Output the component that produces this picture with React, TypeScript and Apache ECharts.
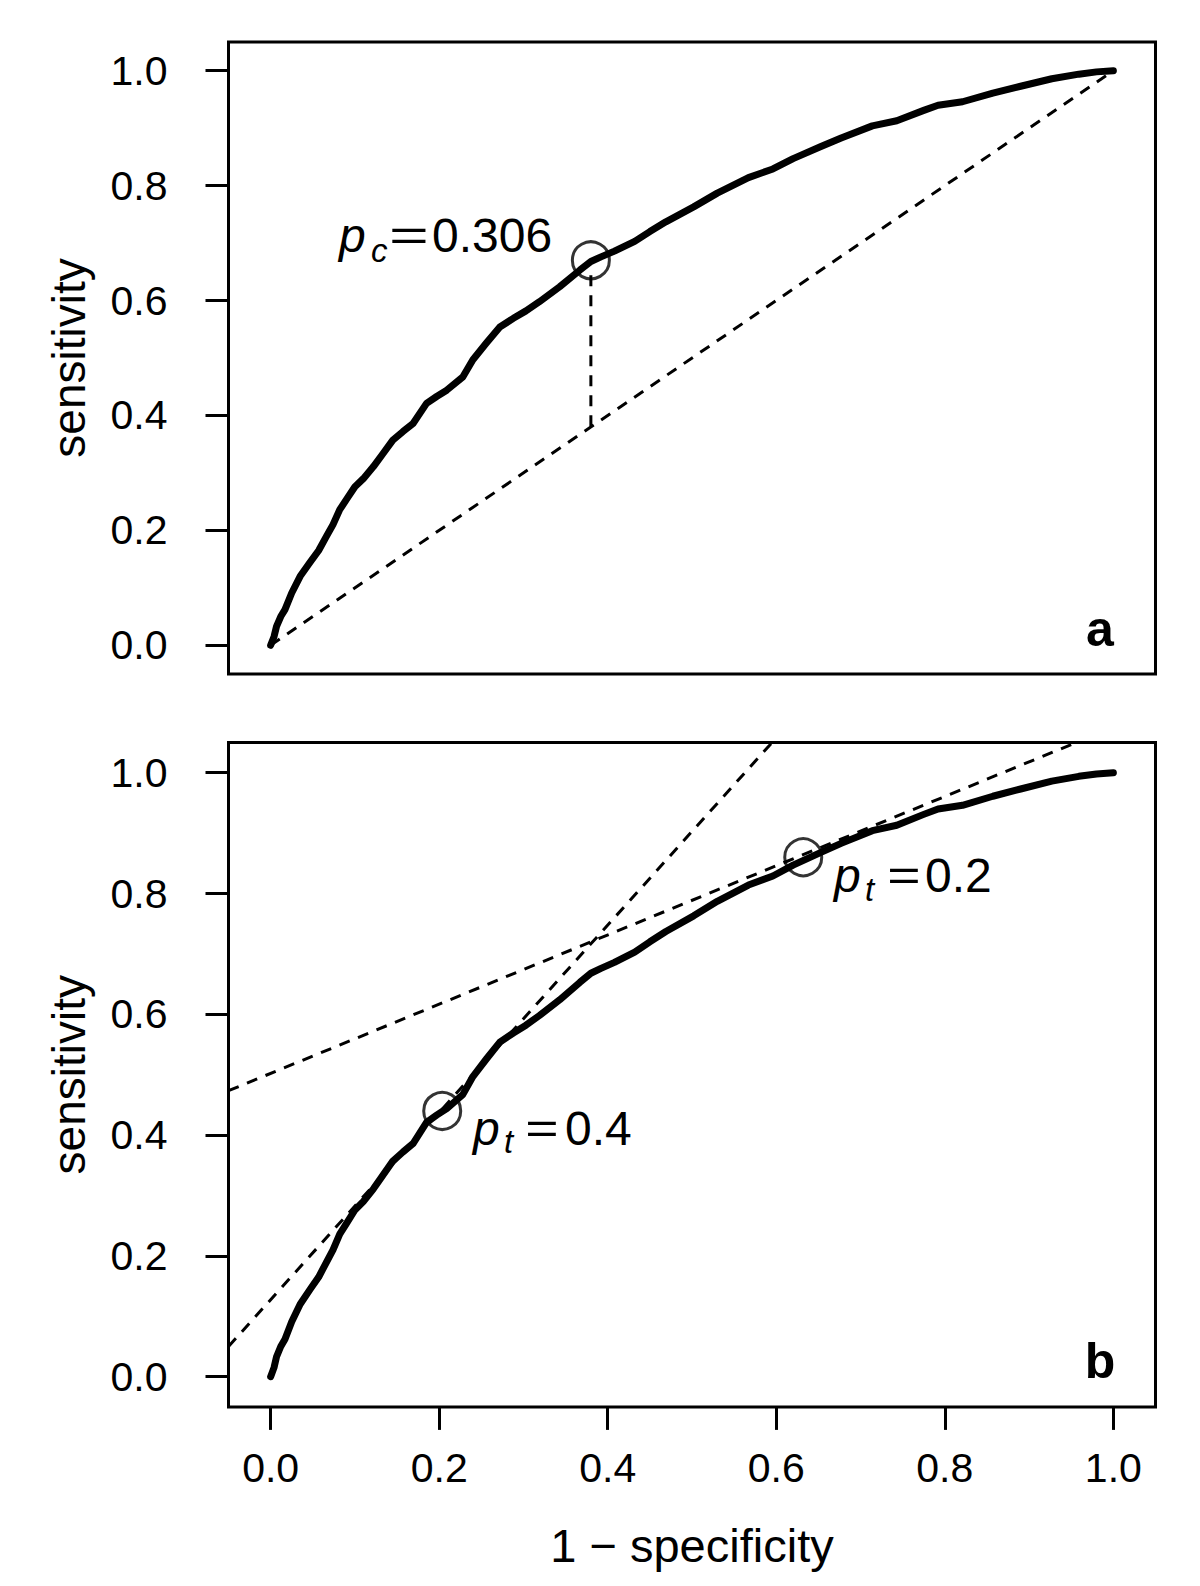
import React, { useEffect, useRef } from "react";
import * as echarts from "echarts";

// ROC curve: 1 - specificity (fpr) and sensitivity (tpr)
const fpr = [0, 0.004, 0.007, 0.012, 0.017, 0.025, 0.035, 0.047, 0.057, 0.066, 0.074, 0.082, 0.091, 0.1, 0.11, 0.122, 0.133, 0.145, 0.157, 0.169, 0.185, 0.197, 0.209, 0.228, 0.24, 0.256, 0.272, 0.288, 0.303, 0.319, 0.343, 0.367, 0.38, 0.392, 0.408, 0.432, 0.45, 0.469, 0.502, 0.53, 0.567, 0.596, 0.62, 0.653, 0.677, 0.714, 0.743, 0.775, 0.792, 0.821, 0.857, 0.89, 0.927, 0.959, 0.98, 1];
const tpr = [0, 0.015, 0.033, 0.05, 0.062, 0.091, 0.12, 0.145, 0.165, 0.189, 0.21, 0.236, 0.256, 0.276, 0.29, 0.311, 0.333, 0.357, 0.372, 0.386, 0.421, 0.433, 0.444, 0.467, 0.497, 0.526, 0.554, 0.569, 0.582, 0.598, 0.624, 0.653, 0.668, 0.676, 0.686, 0.703, 0.72, 0.737, 0.763, 0.787, 0.814, 0.829, 0.847, 0.868, 0.883, 0.904, 0.913, 0.931, 0.94, 0.946, 0.961, 0.973, 0.986, 0.994, 0.998, 1];

const tickValues = [0, 0.2, 0.4, 0.6, 0.8, 1.0];
const tickLabels = ["0.0", "0.2", "0.4", "0.6", "0.8", "1.0"];

// panel a
const diagonal = [[0, 0], [1, 1]];
const cutoffSegment = [[0.38, 0.381], [0.38, 0.645]];
const pcPoint = [[0.38, 0.67]];
// panel b
const tangentPt04 = [[-0.05, 0.05], [0.595, 1.05]];
const tangentPt02 = [[-0.05, 0.4735], [0.956, 1.05]];
const ptPoints = [[0.2036, 0.44], [0.632, 0.86]];

const FONT = "'Liberation Sans', Arial, Helvetica, sans-serif";

export default function App() {
  const ref = useRef<HTMLDivElement>(null);

  useEffect(() => {
    if (!ref.current) return;
    const chart = echarts.init(ref.current, undefined, { renderer: "svg" });
    const curve = fpr.map((x, i) => [x, tpr[i]]);
    const fmt = (v: number) => {
      const idx = tickValues.findIndex((t) => Math.abs(t - v) < 1e-9);
      return idx >= 0 ? tickLabels[idx] : "";
    };
    const labelStyle = { color: "#000", fontSize: 41, fontFamily: FONT };
    const tickStyle = { show: true, inside: false, length: 23, lineStyle: { color: "#000", width: 3 }, customValues: tickValues };
    const dashed = { color: "#000", width: 3, type: [11, 9] as any };
    const gridBase = { show: true, borderColor: "#000", borderWidth: 3, backgroundColor: "transparent", containLabel: false };

    const yAxisBase = (gi: number) => ({
      gridIndex: gi,
      type: "value",
      min: -0.05,
      max: 1.05,
      axisLine: { show: false, onZero: false },
      axisTick: tickStyle,
      axisLabel: { ...labelStyle, customValues: tickValues, formatter: fmt, margin: 61 },
      splitLine: { show: false },
      name: "sensitivity",
      nameLocation: "middle",
      nameRotate: 90,
      nameGap: 137,
      nameTextStyle: { color: "#000", fontSize: 46, fontFamily: FONT },
    });

    const lineS = (xi: number, data: number[][], style: any, z = 2) => ({
      type: "line",
      xAxisIndex: xi,
      yAxisIndex: xi,
      data,
      showSymbol: false,
      symbol: "none",
      lineStyle: style,
      silent: true,
      z,
    });
    const curveStyle = { color: "#000", width: 7, cap: "round", join: "round" };
    const circleS = (xi: number, data: number[][]) => ({
      type: "scatter",
      xAxisIndex: xi,
      yAxisIndex: xi,
      data,
      symbol: "circle",
      symbolSize: 37,
      itemStyle: { color: "rgba(0,0,0,0)", borderColor: "#000", borderWidth: 3 },
      z: 5,
    });

    const txt = (text: string, x: number, y: number, size: number, extra: any = {}, el: any = {}) => ({
      type: "text",
      x,
      y,
      z: 10,
      ...el,
      style: {
        text,
        fill: "#000",
        fontSize: size,
        fontFamily: FONT,
        textAlign: "left",
        textVerticalAlign: "middle",
        ...extra,
      },
    });

    chart.setOption({
      animation: false,
      backgroundColor: "#fff",
      grid: [
        { ...gridBase, left: 228.5, top: 42, width: 927, height: 632 },
        { ...gridBase, left: 228.5, top: 742.5, width: 927, height: 664.4 },
      ],
      xAxis: [
        {
          gridIndex: 0,
          type: "value",
          min: -0.05,
          max: 1.05,
          axisLine: { show: false, onZero: false },
          axisTick: { show: false },
          axisLabel: { show: false },
          splitLine: { show: false },
        },
        {
          gridIndex: 1,
          type: "value",
          min: -0.05,
          max: 1.05,
          axisLine: { show: false, onZero: false },
          axisTick: tickStyle,
          axisLabel: { ...labelStyle, customValues: tickValues, formatter: fmt, margin: 41 },
          splitLine: { show: false },
          name: "1 − specificity",
          nameLocation: "middle",
          nameGap: 115,
          nameTextStyle: { color: "#000", fontSize: 47, fontFamily: FONT },
        },
      ],
      yAxis: [yAxisBase(0), yAxisBase(1)],
      series: [
        lineS(0, diagonal, dashed),
        lineS(0, cutoffSegment, dashed),
        lineS(0, curve, curveStyle, 3),
        circleS(0, pcPoint),
        lineS(1, tangentPt04, dashed),
        lineS(1, tangentPt02, dashed),
        lineS(1, curve, curveStyle, 3),
        circleS(1, ptPoints),
      ],
      graphic: [
        // panel a annotation
        txt("p", 339, 235, 48, { fontStyle: "italic" }),
        txt("c", 371, 250, 33, { fontStyle: "italic" }),
        txt("=", 409, 235, 44, { textAlign: "center" }, { scaleX: 1.55 }),
        txt("0.306", 432, 235, 48),
        // panel b annotations
        txt("p", 834, 875, 48, { fontStyle: "italic" }),
        txt("t", 865, 889, 33, { fontStyle: "italic" }),
        txt("=", 904, 875, 44, { textAlign: "center" }, { scaleX: 1.3 }),
        txt("0.2", 925, 875, 48),
        txt("p", 473, 1128, 48, { fontStyle: "italic" }),
        txt("t", 504, 1141, 33, { fontStyle: "italic" }),
        txt("=", 542, 1128, 44, { textAlign: "center" }, { scaleX: 1.3 }),
        txt("0.4", 565, 1128, 48),
        // panel letters
        txt("a", 1100, 629, 50, { textAlign: "center", fontWeight: "bold" }),
        txt("b", 1100, 1361, 50, { textAlign: "center", fontWeight: "bold" }),
      ],
    });
    return () => chart.dispose();
  }, []);

  return (
    <div
      ref={ref}
      style={{ position: "absolute", left: 0, top: 0, width: 1200, height: 1586, background: "#fff" }}
    />
  );
}
